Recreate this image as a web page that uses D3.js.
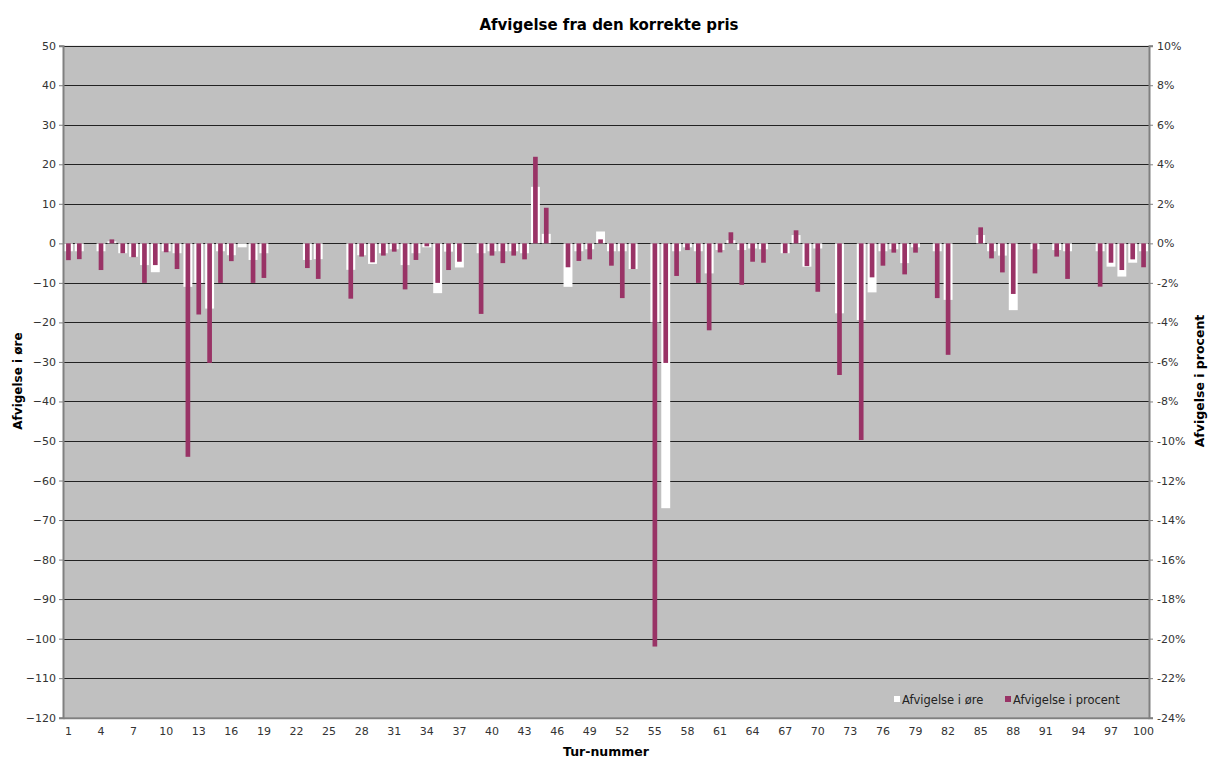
<!DOCTYPE html>
<html>
<head>
<meta charset="utf-8">
<script src="https://cdn.jsdelivr.net/npm/d3@7"></script>
<style>
  body { margin: 0; background: #fff; }
  svg { display: block; font-family: "DejaVu Sans", Verdana, sans-serif; }
</style>
</head>
<body>
<div id="chart"></div>
<script>
// tur 1..100
var turNumbers = d3.range(1, 101);

// afvigelse i øre (hvide søjler, venstre akse)
var oreValues = [
  -2, -2, 0, -2, 0.5, -2.5, -3.4, -5.5, -7.3, -2,
  -2.5, -11, -10, -16.5, -2, -3, -1, -4.2, -2.5, 0,
  0, 0, -4.2, -4, 0, 0, -6.7, -3, -5.2, -2.5,
  -1.5, -5.5, -2.5, -1, -12.6, -2.1, -6.1, 0, -2.5, -2,
  -2, -2, -2.5, 14.3, 2.4, 0, -11, -2, -1.5, 3,
  -2, -2, -6.5, 0, -20, -67, -2, -1, -2, -7.6,
  -1.7, 0.8, -1.7, -1.3, -1.5, 0, -2.5, 2.1, -5.9, -1.3,
  0, -17.7, 0, -19.4, -12.4, -2, -1.5, -5, -1, 0,
  -2, -14.3, 0, 0, 2.1, -2, -3.1, -16.9, 0, -1.5,
  0, -1.7, -2, 0, 0, -2, -5.9, -8.4, -4.9, -2
];

// afvigelse i procent (lilla søjler, højre akse)
var pctValues = [
  -0.85, -0.8, 0, -1.35, 0.2, -0.5, -0.7, -2.0, -1.1, -0.45,
  -1.3, -10.8, -3.6, -6.05, -2.0, -0.9, 0, -2.0, -1.75, 0,
  0, 0, -1.25, -1.8, 0, 0, -2.8, -0.67, -0.96, -0.62,
  -0.42, -2.33, -0.84, -0.15, -2.0, -1.35, -0.93, 0, -3.57, -0.62,
  -1.0, -0.62, -0.81, 4.38, 1.8, 0, -1.21, -0.89, -0.81, 0.2,
  -1.13, -2.77, -1.3, 0, -20.4, -6.05, -1.65, -0.34, -2.0, -4.4,
  -0.46, 0.56, -2.1, -0.93, -0.98, 0, -0.5, 0.66, -1.15, -2.45,
  0, -6.66, 0, -9.95, -1.72, -1.13, -0.47, -1.57, -0.47, 0,
  -2.77, -5.64, 0, 0, 0.81, -0.76, -1.47, -2.56, 0, -1.52,
  0, -0.67, -1.8, 0, 0, -2.19, -0.98, -1.35, -0.81, -1.21
];

var leftTicks = d3.range(-120, 51, 10);
var rightTicks = d3.range(-24, 11, 2);
var xLabels = turNumbers.filter(function(d) { return (d - 1) % 3 == 0; });

var width = 1208, height = 758;
var plotLeft = 63, plotRight = 1149, plotTop = 45.7, plotBottom = 717.7;

var svg = d3.select("#chart").append("svg")
  .attr("width", width)
  .attr("height", height);

var x = d3.scaleBand().domain(turNumbers).range([plotLeft, plotRight]);
var yLeft = d3.scaleLinear().domain([-120, 50]).range([plotBottom, plotTop]);
var yRight = d3.scaleLinear().domain([-24, 10]).range([plotBottom, plotTop]);

// plot baggrund
svg.append("rect")
  .attr("x", plotLeft)
  .attr("y", plotTop)
  .attr("width", plotRight - plotLeft)
  .attr("height", plotBottom - plotTop)
  .style("fill", "#c0c0c0");

// gitterlinjer
svg.append("g").selectAll("line")
  .data(leftTicks.filter(function(d) { return d > -120; }))
  .enter().append("line")
  .attr("x1", plotLeft)
  .attr("x2", plotRight)
  .attr("y1", function(d) { return Math.round(yLeft(d)) + 0.5; })
  .attr("y2", function(d) { return Math.round(yLeft(d)) + 0.5; })
  .style("stroke", "#222")
  .style("stroke-width", 1);

// hvide søjler
var whiteW = x.bandwidth() * 0.82;
svg.append("g").selectAll("rect")
  .data(turNumbers)
  .enter().append("rect")
  .attr("x", function(d) { return x(d) + (x.bandwidth() - whiteW) / 2; })
  .attr("width", whiteW)
  .attr("y", function(d, i) { return yLeft(Math.max(0, oreValues[i])); })
  .attr("height", function(d, i) { return Math.abs(yLeft(oreValues[i]) - yLeft(0)); })
  .style("fill", "#ffffff");

// lilla søjler
var purpleW = x.bandwidth() * 0.43;
svg.append("g").selectAll("rect")
  .data(turNumbers)
  .enter().append("rect")
  .attr("x", function(d) { return x(d) + (x.bandwidth() - purpleW) / 2; })
  .attr("width", purpleW)
  .attr("y", function(d, i) { return yRight(Math.max(0, pctValues[i])); })
  .attr("height", function(d, i) { return Math.abs(yRight(pctValues[i]) - yRight(0)); })
  .style("fill", "#993366");

// akser
var leftAxis = svg.append("g")
  .attr("transform", "translate(" + plotLeft + ",0)")
  .call(d3.axisLeft(yLeft).tickValues(leftTicks).tickSize(4).tickPadding(3));
var rightAxis = svg.append("g")
  .attr("transform", "translate(" + plotRight + ",0)")
  .call(d3.axisRight(yRight).tickValues(rightTicks).tickSize(4).tickPadding(4)
    .tickFormat(function(d) { return d + "%"; }));
var bottomAxis = svg.append("g")
  .attr("transform", "translate(0," + plotBottom + ")")
  .call(d3.axisBottom(x).tickValues(xLabels).tickSize(0).tickPadding(10));

[leftAxis, rightAxis, bottomAxis].forEach(function(a) {
  a.select(".domain").style("stroke", "#808080").style("stroke-width", 2);
  a.selectAll(".tick line").style("stroke", "#808080");
  a.selectAll("text")
    .style("font-family", "DejaVu Sans, Verdana, sans-serif")
    .style("font-size", "11px")
    .style("fill", "#333");
});

// titler
svg.append("text")
  .attr("x", 609)
  .attr("y", 30)
  .attr("text-anchor", "middle")
  .style("font-size", "15px")
  .style("font-weight", "bold")
  .text("Afvigelse fra den korrekte pris");

svg.append("text")
  .attr("x", 606)
  .attr("y", 756)
  .attr("text-anchor", "middle")
  .style("font-size", "12.5px")
  .style("font-weight", "bold")
  .text("Tur-nummer");

svg.append("text")
  .attr("transform", "translate(22,381) rotate(-90)")
  .attr("text-anchor", "middle")
  .style("font-size", "12px")
  .style("font-weight", "bold")
  .text("Afvigelse i øre");

svg.append("text")
  .attr("transform", "translate(1204,381) rotate(-90)")
  .attr("text-anchor", "middle")
  .style("font-size", "12.5px")
  .style("font-weight", "bold")
  .text("Afvigelse i procent");

// signaturforklaring
var legendItems = [
  { name: "Afvigelse i øre", color: "#ffffff", x: 894 },
  { name: "Afvigelse i procent", color: "#993366", x: 1005 }
];
var legend = svg.append("g");
legend.selectAll("rect")
  .data(legendItems)
  .enter().append("rect")
  .attr("x", function(d) { return d.x; })
  .attr("y", 696)
  .attr("width", 6)
  .attr("height", 6)
  .style("fill", function(d) { return d.color; });
legend.selectAll("text")
  .data(legendItems)
  .enter().append("text")
  .attr("x", function(d) { return d.x + 8; })
  .attr("y", 704)
  .style("font-size", "11.5px")
  .style("fill", "#222")
  .text(function(d) { return d.name; });
</script>
</body>
</html>
